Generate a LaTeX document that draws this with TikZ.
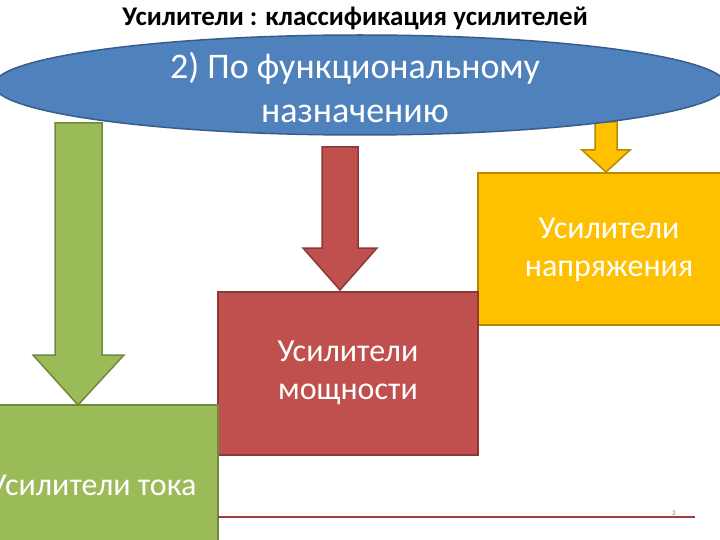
\documentclass[tikz,border=0pt]{standalone}
\usepackage{fontspec}
\setmainfont{Carlito}
\usetikzlibrary{shapes.geometric}
\definecolor{cblue}{HTML}{4F81BD}
\definecolor{cblueb}{HTML}{385D8A}
\definecolor{cgreen}{HTML}{9BBB59}
\definecolor{cgreenb}{HTML}{71893F}
\definecolor{cred}{HTML}{C0504D}
\definecolor{credb}{HTML}{8C3836}
\definecolor{corange}{HTML}{FFC000}
\definecolor{corangeb}{HTML}{B88A00}
\tikzset{
  px/.style={x=1pt,y=-1pt},
  box/.style={line width=1.5pt,inner sep=0pt},
  arr/.style={line width=1.5pt,line join=miter},
  lbl/.style={text=white,font=\fontsize{32}{38}\selectfont,align=center}
}
\begin{document}
\begin{tikzpicture}[px]
\useasboundingbox (0,0) rectangle (720,540);
\clip (0,0) rectangle (720,540);
\fill[white] (0,0) rectangle (720,540);
% arrows
\draw[arr,fill=cgreen,draw=cgreenb] (55,123) -- (102,123) -- (102,355) -- (124,355) -- (78,405) -- (33,355) -- (55,355) -- cycle;
\draw[arr,fill=cred,draw=credb] (322,147) -- (358,147) -- (358,248) -- (377,248) -- (340,290) -- (303,248) -- (322,248) -- cycle;
\draw[arr,fill=corange,draw=corangeb] (595,122) -- (617,122) -- (617,150) -- (630,150) -- (606,172) -- (582,150) -- (595,150) -- cycle;
% boxes
\draw[box,fill=corange,draw=corangeb] (478,173) rectangle (728,325);
\node[lbl] (bv) at (609,250) {Усилители\\напряжения};
\draw[box,fill=cred,draw=credb] (218,292) rectangle (478,455);
\node[lbl] (bp) at (348,373) {Усилители\\мощности};
\draw[box,fill=cgreen,draw=cgreenb] (-10,405) rectangle (218,550);
\node[lbl,anchor=east] (bt) at (200,485) {Усилители тока};
% ellipse
\node[ellipse,fill=cblue,draw=cblueb,line width=1.5pt,minimum width=732pt,minimum height=100pt] (el) at (360,85) {};
\node[text=white,font=\fontsize{36}{44}\selectfont,align=center] (et) at (355,87) {2) По функциональному\\назначению};
% title
\node[font=\bfseries\fontsize{27}{32}\selectfont] (title) at (355,18) {Усилители : классификация усилителей};
% bottom line
\coordinate (l1) at (218,517);
\coordinate (l2) at (695,517);
\draw[cred!80!black,line width=2pt] (l1) -- (l2);
\node[text=gray,font=\fontsize{7}{8}\selectfont] (pg) at (674,513) {2};
\end{tikzpicture}
\end{document}
